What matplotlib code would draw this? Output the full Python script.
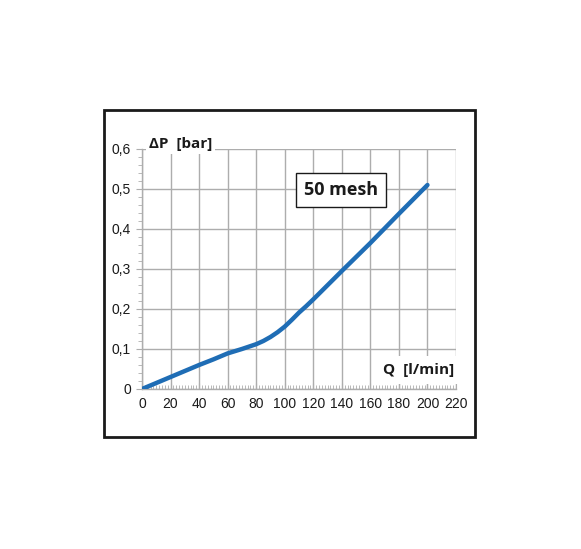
import matplotlib.pyplot as plt
from matplotlib.ticker import MultipleLocator, FuncFormatter
from matplotlib.patches import Rectangle

# flow [l/min] vs pressure drop [bar]
flow = [0, 10, 20, 30, 40, 50, 60, 70, 80, 85, 90, 95, 100, 105, 110, 115, 120, 140, 160, 180, 200]
dp = [0, 0.015, 0.03, 0.045, 0.06, 0.074, 0.089, 0.1, 0.112, 0.12, 0.13, 0.142, 0.156, 0.173, 0.191, 0.207, 0.224, 0.295, 0.365, 0.438, 0.51]

x_ticks = list(range(0, 221, 20))
y_ticks = [0, 0.1, 0.2, 0.3, 0.4, 0.5, 0.6]

plt.rcParams['font.family'] = ['Liberation Sans', 'DejaVu Sans']

fig = plt.figure(figsize=(5.81, 5.49), dpi=100)
ax = fig.add_axes([142/581, 1 - 389/549, 314/581, 240/549])

# outer frame
fig.patches.append(Rectangle((104/581, 1 - 437/549), 371/581, 327/549,
                             transform=fig.transFigure, fill=False,
                             edgecolor='#1a1a1a', linewidth=2))

grid_c = '#adadad'
ax.set_xlim(0, 220)
ax.set_ylim(0, 0.6)
ax.set_xticks(x_ticks)
ax.set_yticks(y_ticks)
ax.xaxis.set_minor_locator(MultipleLocator(2))
ax.yaxis.set_minor_locator(MultipleLocator(0.02))
ax.yaxis.set_major_formatter(FuncFormatter(lambda v, p: '0' if v == 0 else f'{v:.1f}'.replace('.', ',')))
ax.grid(True, which='major', color=grid_c, linewidth=1)
ax.set_axisbelow(True)

for s in ['top', 'right']:
    ax.spines[s].set_visible(False)
for s in ['left', 'bottom']:
    ax.spines[s].set_color(grid_c)
    ax.spines[s].set_linewidth(1)

ax.tick_params(axis='x', which='both', direction='in', colors=grid_c, labelcolor='#1a1a1a', labelsize=10, pad=6)
ax.tick_params(axis='x', which='major', length=4)
ax.tick_params(axis='x', which='minor', length=3)
ax.tick_params(axis='y', which='both', direction='out', colors=grid_c, labelcolor='#1a1a1a', labelsize=10, pad=4)
ax.tick_params(axis='y', which='major', length=4)
ax.tick_params(axis='y', which='minor', length=3)

ax.plot(flow, dp, color='#1f6db5', linewidth=3.2, solid_capstyle='round', solid_joinstyle='round', zorder=3)

ax.text(5, 0.613, 'ΔP  [bar]', fontsize=11, fontweight='bold', family=['Open Sans', 'DejaVu Sans'],
        va='center', ha='left', color='#1a1a1a',
        bbox=dict(facecolor='white', edgecolor='none', pad=2), clip_on=False, zorder=4)
ax.text(219, 0.048, 'Q  [l/min]', fontsize=11, fontweight='bold', family=['Open Sans', 'DejaVu Sans'],
        va='center', ha='right', color='#1a1a1a',
        bbox=dict(facecolor='white', edgecolor='none', pad=5), zorder=4)
ax.text(139.5, 0.497, '50 mesh', fontsize=13, fontweight='bold', family=['Open Sans', 'DejaVu Sans'],
        va='center', ha='center', color='#1a1a1a',
        bbox=dict(facecolor='white', edgecolor='#1a1a1a', linewidth=1, boxstyle='square,pad=0.45'), zorder=4)

fig.savefig('out.png', dpi=100)
